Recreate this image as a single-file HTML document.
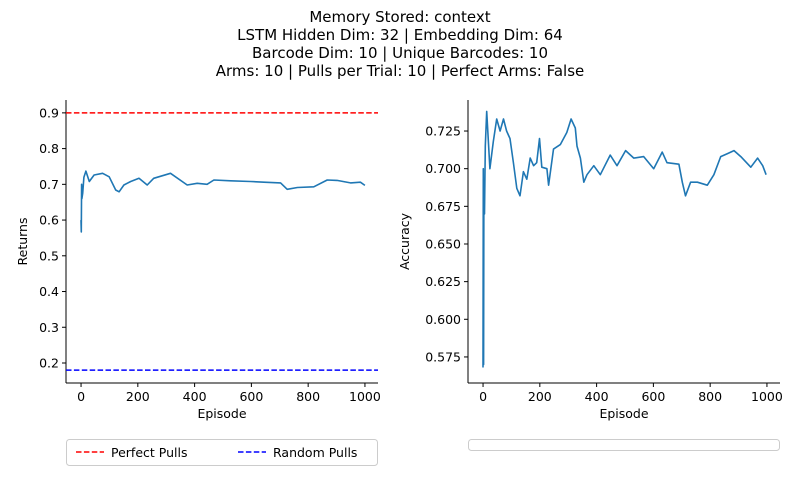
<!DOCTYPE html>
<html><head><meta charset="utf-8"><style>
body{margin:0;background:#fff;}
svg{display:block;font-family:"DejaVu Sans","Liberation Sans",sans-serif;}
</style></head><body>
<svg id="c" width="800" height="500">
<g font-size="15" text-anchor="middle" fill="#000">
<text x="400" y="22">Memory Stored: context</text>
<text x="400" y="40">LSTM Hidden Dim: 32 | Embedding Dim: 64</text>
<text x="400" y="58">Barcode Dim: 10 | Unique Barcodes: 10</text>
<text x="400" y="76">Arms: 10 | Pulls per Trial: 10 | Perfect Arms: False</text>
</g>
</svg>
<script>
const retEps=[0,1,2,3,6,10,17,29,46,76,99,122,134,151,175,204,233,256,315,374,409,444,468,527,597,644,703,726,762,820,867,902,949,984,1000];
const retVals=[0.60,0.567,0.70,0.66,0.675,0.72,0.737,0.708,0.726,0.731,0.721,0.684,0.679,0.698,0.708,0.717,0.698,0.717,0.731,0.698,0.703,0.700,0.712,0.710,0.708,0.706,0.704,0.686,0.691,0.693,0.712,0.711,0.704,0.706,0.697];
const accEps=[0,1,2,3,5,8,13,24,36,48,60,72,83,95,107,119,130,142,154,166,178,189,199,207,225,231,248,272,295,310,325,331,343,355,366,390,413,448,472,502,531,566,601,631,648,690,702,713,731,755,790,813,837,861,884,908,943,967,985,997];
const accVals=[0.568,0.700,0.570,0.690,0.670,0.715,0.738,0.700,0.718,0.733,0.725,0.733,0.725,0.720,0.704,0.687,0.682,0.698,0.693,0.707,0.702,0.704,0.720,0.701,0.700,0.689,0.713,0.716,0.724,0.733,0.727,0.715,0.707,0.691,0.696,0.702,0.696,0.709,0.702,0.712,0.707,0.708,0.700,0.711,0.704,0.703,0.691,0.682,0.691,0.691,0.689,0.696,0.708,0.710,0.712,0.708,0.701,0.707,0.702,0.696];
const xTicks=[0,200,400,600,800,1000];
const retTicks=[0.2,0.3,0.4,0.5,0.6,0.7,0.8,0.9];
const accTicks=[0.575,0.6,0.625,0.65,0.675,0.7,0.725];
const perfect=0.9, random=0.18;
const NS='http://www.w3.org/2000/svg';
const svg=document.getElementById('c');
function el(t,a,p){const e=document.createElementNS(NS,t);for(const k in a)e.setAttribute(k,a[k]);(p||svg).appendChild(e);return e;}
function panel(L,R,T,B,xmin,xmax,ymin,ymax,xs,ys,yt,ylab,dec,name){
 const X=v=>L+(v-xmin)/(xmax-xmin)*(R-L);
 const Y=v=>B-(v-ymin)/(ymax-ymin)*(B-T);
 const g=el('g',{});
 
 
 const d=xs.map((x,i)=>(i?'L':'M')+X(x).toFixed(1)+','+Y(ys[i]).toFixed(1)).join('');
 const ln=el('path',{d:d,fill:'none',stroke:'#1f77b4','stroke-width':1.6,'stroke-linejoin':'round'},g);
 
 
 el('line',{x1:L,y1:T,x2:L,y2:B,stroke:'#000','stroke-width':1},g);
 el('line',{x1:L,y1:B,x2:R,y2:B,stroke:'#000','stroke-width':1},g);
 xTicks.forEach(t=>{el('line',{x1:X(t),y1:B,x2:X(t),y2:B+4,stroke:'#000'},g);
  const tx=el('text',{x:X(t),y:B+18,'font-size':12.5,'text-anchor':'middle'},g);tx.textContent=t;
  
  });
 yt.forEach(t=>{el('line',{x1:L-4,y1:Y(t),x2:L,y2:Y(t),stroke:'#000'},g);
  const tx=el('text',{x:L-7,y:Y(t)+4.5,'font-size':12.5,'text-anchor':'end'},g);tx.textContent=t.toFixed(dec);
  
  });
 const xl=el('text',{x:(L+R)/2,y:B+35,'font-size':12.5,'text-anchor':'middle'},g);xl.textContent='Episode';
 
 
 const yl=el('text',{x:0,y:0,'font-size':12.5,'text-anchor':'middle',transform:`translate(${dec==1?27:409},${(T+B)/2}) rotate(-90)`},g);yl.textContent=ylab;
 
 
 return {X,Y,g};
}
const p1=panel(66,378,100,383,-53,1046,0.144,0.936,retEps,retVals,retTicks,'Returns',1,'returns');
const h1=el('line',{x1:66,x2:378,y1:p1.Y(perfect),y2:p1.Y(perfect),stroke:'red','stroke-width':1.5,'stroke-dasharray':'5.5,2.4'});


const h2=el('line',{x1:66,x2:378,y1:p1.Y(random),y2:p1.Y(random),stroke:'blue','stroke-width':1.5,'stroke-dasharray':'5.5,2.4'});


panel(468,780,100,383,-53,1046,0.5577,0.7456,accEps,accVals,accTicks,'Accuracy',3,'accuracy');
// legends
const lg=el('g',{});


el('rect',{x:66.5,y:439.5,width:311,height:26,rx:3,fill:'#fff',stroke:'#ccc'},lg);
el('line',{x1:76,x2:104,y1:452,y2:452,stroke:'red','stroke-width':1.5,'stroke-dasharray':'5.5,2.4'},lg);
let t=el('text',{x:111,y:457,'font-size':12.5},lg);t.textContent='Perfect Pulls';


el('line',{x1:238,x2:266,y1:452,y2:452,stroke:'blue','stroke-width':1.5,'stroke-dasharray':'5.5,2.4'},lg);
t=el('text',{x:273,y:457,'font-size':12.5},lg);t.textContent='Random Pulls';


const lg2=el('rect',{x:468.5,y:439.5,width:311,height:11,rx:3,fill:'#fff',stroke:'#ccc'});


</script>
</body></html>
